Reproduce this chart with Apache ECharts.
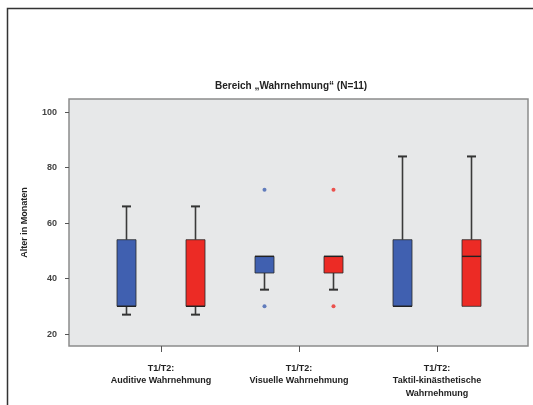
<!DOCTYPE html>
<html>
<head>
<meta charset="utf-8">
<script src="https://cdn.jsdelivr.net/npm/echarts@6/dist/echarts.min.js"></script>
<style>
  html, body { margin: 0; padding: 0; background: #fff; }
  #chart { width: 533px; height: 405px; }
</style>
</head>
<body>
<div id="chart"></div>
<script>
const groups = ['T1/T2:\nAuditive Wahrnehmung', 'T1/T2:\nVisuelle Wahrnehmung', 'T1/T2:\nTaktil-kinästhetische\nWahrnehmung'];
const seriesNames = ['T1', 'T2'];
// [min, Q1, median, Q3, max]
const t1Box = [[27, 30, 30, 54, 66], [36, 42, 48, 48, 48], [30, 30, 30, 54, 84]];
const t2Box = [[27, 30, 30, 54, 66], [36, 42, 48, 48, 48], [30, 30, 48, 54, 84]];
// [group index, value]
const t1Outliers = [[1, 72], [1, 30]];
const t2Outliers = [[1, 72], [1, 30]];
const yTicks = [20, 40, 60, 80, 100];

const blue = '#4060b0';
const red = '#ec2b25';
const font = 'Liberation Sans, Arial, sans-serif';

// one slot per box: T1, T2, T1, T2, ...
const slots = [];
groups.forEach((g, i) => slots.push(seriesNames[0] + ' ' + i, seriesNames[1] + ' ' + i));

const yMin = 15.7, yMax = 104.7;

// box and whiskers through the axis scales
const renderBox = (params, api) => {
  const x = api.value(0);
  const pMin = api.coord([x, api.value(1)]);
  const pQ1 = api.coord([x, api.value(2)]);
  const pMed = api.coord([x, api.value(3)]);
  const pQ3 = api.coord([x, api.value(4)]);
  const pMax = api.coord([x, api.value(5)]);
  const cx = pMin[0];
  const half = 9.5, cap = 4.5;
  const line = { stroke: '#3a3a3a', lineWidth: 1.6 };
  const children = [];
  if (pMax[1] < pQ3[1]) {
    children.push({ type: 'line', shape: { x1: cx, y1: pQ3[1], x2: cx, y2: pMax[1] }, style: line });
    children.push({ type: 'line', shape: { x1: cx - cap, y1: pMax[1], x2: cx + cap, y2: pMax[1] }, style: { stroke: '#333', lineWidth: 2 } });
  }
  if (pMin[1] > pQ1[1]) {
    children.push({ type: 'line', shape: { x1: cx, y1: pQ1[1], x2: cx, y2: pMin[1] }, style: line });
    children.push({ type: 'line', shape: { x1: cx - cap, y1: pMin[1], x2: cx + cap, y2: pMin[1] }, style: { stroke: '#333', lineWidth: 2 } });
  }
  children.push({
    type: 'rect',
    shape: { x: cx - half, y: pQ3[1], width: half * 2, height: pQ1[1] - pQ3[1] },
    style: { fill: api.visual('color'), stroke: '#2a2a2a', lineWidth: 0.8 }
  });
  children.push({ type: 'line', shape: { x1: cx - half, y1: pMed[1], x2: cx + half, y2: pMed[1] }, style: { stroke: '#222', lineWidth: 1.4 } });
  return { type: 'group', children };
};

const boxSeries = (name, boxes, offset, color) => ({
  name,
  type: 'custom',
  xAxisIndex: 1,
  yAxisIndex: 1,
  itemStyle: { color },
  renderItem: renderBox,
  encode: { x: 0, y: [1, 2, 3, 4, 5] },
  data: boxes.map((b, i) => [i * 2 + offset].concat(b))
});

const outlierSeries = (name, points, offset, color) => ({
  name,
  type: 'scatter',
  xAxisIndex: 1,
  yAxisIndex: 1,
  symbolSize: 4,
  itemStyle: { color },
  data: points.map(d => [d[0] * 2 + offset, d[1]])
});

const chart = echarts.init(document.getElementById('chart'));
chart.setOption({
  animation: false,
  textStyle: { fontFamily: font },
  title: {
    text: 'Bereich „Wahrnehmung“ (N=11)',
    left: 210,
    top: 76,
    textStyle: { fontSize: 10, fontWeight: 'bold', color: '#222', fontFamily: font }
  },
  graphic: [{
    type: 'rect',
    shape: { x: 7.5, y: 8.5, width: 600, height: 500 },
    style: { fill: 'none', stroke: '#333', lineWidth: 1.5 },
    silent: true
  }],
  grid: [
    { left: 69, right: 5, top: 99, bottom: 59, show: true, backgroundColor: '#e7e8e9', borderColor: '#8c8c8c', borderWidth: 1.5 },
    { left: 92, right: 27, top: 99, bottom: 59 }
  ],
  xAxis: [
    { gridIndex: 0, type: 'category', data: [''], show: false },
    { gridIndex: 1, type: 'category', data: slots, show: false },
    {
      gridIndex: 1,
      type: 'category',
      data: groups,
      position: 'bottom',
      axisLine: { show: false },
      axisTick: { show: true, alignWithLabel: true, length: 6, lineStyle: { color: '#555' } },
      axisLabel: { fontSize: 9, fontWeight: 'bold', color: '#222', lineHeight: 12.5, margin: 16, fontFamily: font }
    }
  ],
  yAxis: [
    {
      gridIndex: 0,
      type: 'value',
      min: yMin,
      max: yMax,
      name: 'Alter in Monaten',
      nameLocation: 'middle',
      nameGap: 40,
      nameTextStyle: { fontSize: 9, fontWeight: 'bold', color: '#222', fontFamily: font },
      splitLine: { show: false },
      axisLine: { show: false },
      axisTick: { show: true, length: 4, customValues: yTicks, lineStyle: { color: '#555' } },
      axisLabel: { customValues: yTicks, fontSize: 9, fontWeight: 'bold', color: '#444', margin: 12, fontFamily: font }
    },
    { gridIndex: 1, type: 'value', min: yMin, max: yMax, show: false, splitLine: { show: false } }
  ],
  series: [
    boxSeries(seriesNames[0], t1Box, 0, blue),
    boxSeries(seriesNames[1], t2Box, 1, red),
    outlierSeries(seriesNames[0], t1Outliers, 0, blue),
    outlierSeries(seriesNames[1], t2Outliers, 1, red)
  ]
});
</script>
</body>
</html>
